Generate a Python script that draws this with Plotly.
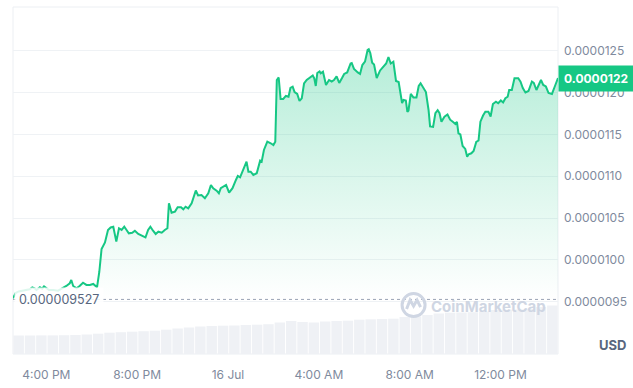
import pandas as pd
import plotly.graph_objects as go

# ---------------- data ----------------
start_time = "2024-07-15 14:32"
# minutes after start_time for each price sample
minutes = [0, 7, 15, 31, 44, 51, 57, 62, 71, 77, 82, 88, 95, 106, 119, 125, 132, 141, 150, 154,
           159, 168, 176, 185, 194, 203, 212, 222, 228, 234, 243, 251, 258, 265, 273, 280, 287, 294, 300, 306,
           315, 322, 331, 344, 350, 357, 363, 370, 377, 384, 393, 401, 408, 412, 419, 428, 435, 444, 450, 456,
           463, 472, 478, 483, 489, 498, 507, 516, 523, 529, 538, 544, 549, 557, 563, 571, 580, 589, 594, 600,
           607, 617, 622, 628, 635, 644, 653, 657, 663, 672, 681, 688, 693, 697, 702, 707, 714, 721, 728, 733,
           739, 744, 751, 757, 763, 769, 776, 785, 792, 796, 800, 804, 810, 813, 819, 827, 835, 842, 848, 855,
           862, 869, 875, 883, 892, 895, 901, 911, 917, 923, 930, 937, 940, 944, 949, 954, 961, 970, 979, 986,
           992, 998, 1005, 1012, 1019, 1024, 1028, 1032, 1038, 1042, 1045, 1051, 1058, 1066, 1072, 1077, 1085, 1091, 1098, 1102,
           1110, 1116, 1122, 1127, 1132, 1140, 1148, 1155, 1162, 1169, 1173, 1177, 1182, 1188, 1195, 1200, 1204, 1211, 1217, 1224,
           1230, 1235, 1242, 1248, 1256, 1262, 1268, 1276, 1282, 1289, 1295, 1301, 1307, 1311, 1318, 1325, 1335, 1341, 1347, 1354,
           1362, 1371, 1376, 1383, 1389, 1395, 1401, 1408, 1415, 1424, 1432, 1440]
# price in micro-USD (x 1e-6)
price_micro = [9.541, 9.604, 9.622, 9.632, 9.648, 9.672, 9.660, 9.640, 9.672, 9.656, 9.684, 9.664, 9.640, 9.640, 9.632, 9.648, 9.664, 9.688, 9.720, 9.760,
               9.688, 9.660, 9.688, 9.727, 9.700, 9.700, 9.712, 9.672, 9.855, 10.130, 10.208, 10.358, 10.388, 10.397, 10.218, 10.378, 10.358, 10.397, 10.358, 10.318,
               10.325, 10.349, 10.310, 10.286, 10.268, 10.358, 10.397, 10.349, 10.310, 10.337, 10.325, 10.358, 10.378, 10.677, 10.565, 10.577, 10.629, 10.629, 10.605, 10.636,
               10.617, 10.677, 10.749, 10.830, 10.770, 10.776, 10.737, 10.797, 10.896, 10.857, 10.828, 10.797, 10.857, 10.876, 10.896, 10.804, 10.857, 10.956, 11.004, 10.988,
               11.075, 11.175, 11.055, 11.055, 11.016, 11.036, 11.187, 11.175, 11.315, 11.414, 11.395, 11.374, 11.414, 12.152, 12.182, 11.925, 11.925, 11.961, 11.952, 12.056,
               12.072, 12.008, 11.985, 11.901, 11.933, 12.110, 12.152, 12.188, 12.206, 12.172, 12.080, 12.236, 12.254, 12.232, 12.251, 12.092, 12.152, 12.134, 12.152, 12.194,
               12.116, 12.172, 12.224, 12.242, 12.349, 12.355, 12.284, 12.242, 12.224, 12.331, 12.371, 12.511, 12.519, 12.475, 12.359, 12.337, 12.176, 12.266, 12.311, 12.349,
               12.427, 12.349, 12.371, 12.140, 12.128, 11.949, 11.877, 11.913, 11.907, 11.769, 11.787, 11.985, 11.943, 11.943, 12.080, 12.113, 12.053, 12.008, 11.793, 11.596,
               11.590, 11.754, 11.790, 11.754, 11.653, 11.713, 11.739, 11.677, 11.652, 11.626, 11.650, 11.514, 11.500, 11.362, 11.327, 11.234, 11.264, 11.275, 11.303, 11.410,
               11.428, 11.653, 11.727, 11.773, 11.773, 11.715, 11.865, 11.892, 11.873, 11.907, 11.883, 11.933, 11.952, 12.032, 12.032, 12.172, 12.172, 12.132, 12.056, 12.002,
               12.020, 12.132, 12.116, 12.032, 12.092, 12.152, 12.092, 12.074, 11.996, 11.985, 12.080, 12.175]
# 24h volume samples, one per 30 minutes (thousand USD)
volume_k = [185, 185, 186, 186, 188, 190, 195, 203, 213, 218, 223, 228, 233, 243, 255, 265,
            275, 280, 283, 285, 290, 293, 298, 315, 330, 320, 315, 325, 330, 333, 343, 347,
            350, 353, 370, 375, 390, 405, 413, 415, 418, 425, 440, 443, 445, 450, 470, 485]

open_price = 9.527e-6
current_label = "0.0000122"
open_label = "0.000009527"
y_tick_vals = [9.5e-6, 10.0e-6, 10.5e-6, 11.0e-6, 11.5e-6, 12.0e-6, 12.5e-6]
y_tick_text = ["0.0000095", "0.0000100", "0.0000105", "0.0000110", "0.0000115", "0.0000120", "0.0000125"]
x_tick_vals = ["2024-07-15 16:00", "2024-07-15 20:00", "2024-07-16 00:00",
               "2024-07-16 04:00", "2024-07-16 08:00", "2024-07-16 12:00"]
x_tick_text = ["4:00 PM", "8:00 PM", "16 Jul", "4:00 AM", "8:00 AM", "12:00 PM"]

# ---------------- build ----------------
t0 = pd.Timestamp(start_time)
times = [t0 + pd.Timedelta(minutes=m) for m in minutes]
prices = [p * 1e-6 for p in price_micro]
vol_times = [t0 + pd.Timedelta(minutes=15 + 30 * i) for i in range(len(volume_k))]

GREEN = "#16c784"
GRAY = "#808a9d"
WM = "#cfd6e3"
FONT = "Inter"

fig = go.Figure()
fig.add_trace(go.Bar(x=vol_times, y=volume_k, yaxis="y2", marker=dict(color="#eff1f5", line=dict(width=0)),
                     hoverinfo="skip", showlegend=False))
fig.add_trace(go.Scatter(x=times, y=[open_price] * len(times), mode="lines", line=dict(width=0),
                         hoverinfo="skip", showlegend=False))
fig.add_trace(go.Scatter(x=times, y=prices, mode="lines", line=dict(color=GREEN, width=2),
                         fill="tonexty",
                         fillgradient=dict(type="vertical",
                                           colorscale=[[0, "rgba(22,199,132,0)"], [1, "rgba(22,199,132,0.32)"]]),
                         showlegend=False))

fig.add_shape(type="line", xref="paper", x0=0, x1=1, yref="y", y0=open_price, y1=open_price,
              line=dict(color="#9aa3b5", width=1, dash="dot"))
fig.add_shape(type="rect", xref="paper", yref="paper", x0=0, x1=1, y0=0, y1=1,
              line=dict(color="#eceff3", width=1), layer="below")

# watermark logo
fig.add_shape(type="circle", xref="paper", yref="paper", xsizemode="pixel", ysizemode="pixel",
              xanchor=0.735, yanchor=0.141, x0=-11.5, x1=11.5, y0=-11.5, y1=11.5,
              line=dict(color=WM, width=3))
fig.add_shape(type="path", xref="paper", yref="paper", xsizemode="pixel", ysizemode="pixel",
              xanchor=0.735, yanchor=0.141, path="M -7 -4 L -3.5 5 L 0 -1 L 3.5 5 L 7 -2",
              line=dict(color=WM, width=3))
fig.add_annotation(text="<b>CoinMarketCap</b>", xref="paper", yref="paper", x=0.764, y=0.138, xanchor="left",
                   yanchor="middle", showarrow=False, font=dict(family=FONT, size=15, color=WM))

fig.add_annotation(text=open_label, xref="paper", yref="y", x=0.002, y=open_price, xanchor="left",
                   yanchor="middle", showarrow=False, bgcolor="rgba(255,255,255,0.85)", borderpad=4,
                   font=dict(family=FONT, size=12.5, color="#58667e"))
fig.add_annotation(text="<b>" + current_label + "</b>", xref="paper", yref="y", x=1, y=prices[-1],
                   xanchor="left", yanchor="middle", showarrow=False, bgcolor=GREEN, borderpad=5,
                   font=dict(family=FONT, size=12, color="white"))
fig.add_annotation(text="<b>USD</b>", xref="paper", yref="paper", x=1, xshift=54, y=0.025, xanchor="center",
                   yanchor="middle", showarrow=False, font=dict(family=FONT, size=13, color="#58667e"))

fig.update_layout(
    width=633, height=388, margin=dict(l=13, r=75, t=7, b=34),
    paper_bgcolor="white", plot_bgcolor="white",
    font=dict(family=FONT, size=12, color=GRAY),
    bargap=0.08,
    xaxis=dict(type="date", range=[t0, t0 + pd.Timedelta(minutes=1440)], showgrid=False, zeroline=False,
               showline=False, ticks="", tickvals=x_tick_vals, ticktext=x_tick_text,
               tickfont=dict(family=FONT, size=12, color=GRAY), ticklabelstandoff=12),
    yaxis=dict(side="right", range=[8.874e-6, 13.025e-6], tickvals=y_tick_vals, ticktext=y_tick_text,
               gridcolor="#eff2f5", gridwidth=1, zeroline=False, showline=False, ticks="",
               tickfont=dict(family=FONT, size=12, color=GRAY), ticklabelstandoff=5),
    yaxis2=dict(overlaying="y", range=[0, 3470], visible=False),
)

fig.write_html("out.html")
